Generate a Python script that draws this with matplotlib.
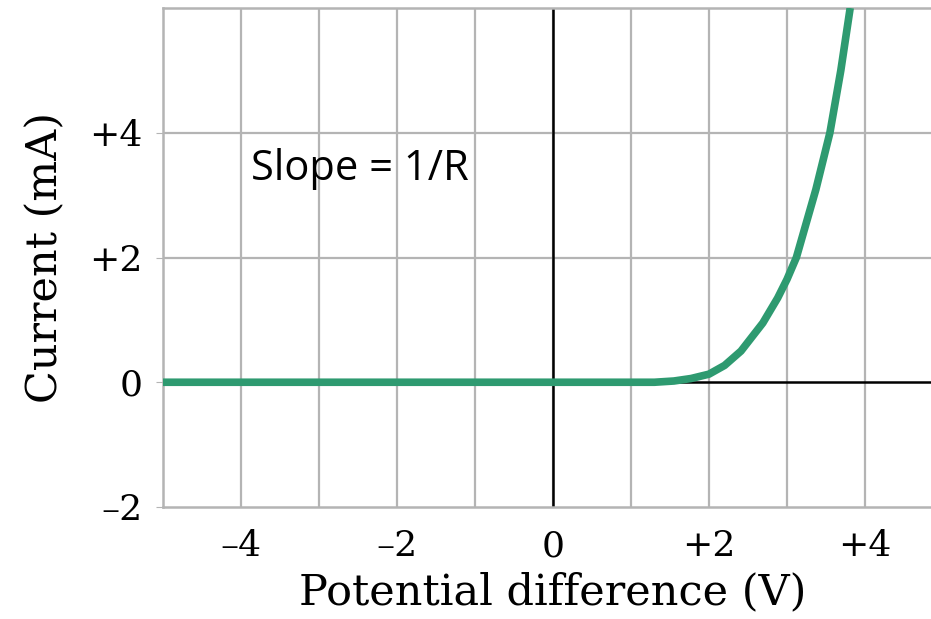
import matplotlib.pyplot as plt

# curve (V, mA)
voltage = [-5.0, 1.3, 1.55, 1.77, 2.0, 2.2, 2.41, 2.69, 2.88, 3.0, 3.12, 3.37, 3.55, 3.69, 3.81]
current = [0.0, 0.0, 0.02, 0.06, 0.13, 0.27, 0.5, 0.95, 1.35, 1.65, 2.0, 3.09, 4.0, 5.0, 6.0]

x_ticks = [-4, -2, 0, 2, 4]
x_labels = ["\u20134", "\u20132", "0", "+2", "+4"]
y_ticks = [-2, 0, 2, 4]
y_labels = ["\u20132", "0", "+2", "+4"]

serif = "DejaVu Serif"
grid_col = "#b4b4b4"

fig = plt.figure(figsize=(9.31, 6.19), dpi=100)
ax = fig.add_axes([163 / 931, 112 / 619, 780 / 931, 499 / 619])
ax.set_xlim(-5, 5)
ax.set_ylim(-2, 6)

# grid: every 1 V, every 2 mA
for v in range(-4, 5):
    ax.axvline(v, color=grid_col, lw=1.6, zorder=1)
for c in [2, 4]:
    ax.axhline(c, color=grid_col, lw=1.6, zorder=1)
ax.axvline(0, color="black", lw=1.8, zorder=2)
ax.axhline(0, color="black", lw=1.8, zorder=2)

ax.plot(voltage, current, color="#2e9a70", lw=5.5, solid_capstyle="butt",
        solid_joinstyle="round", zorder=3)

ax.text(-3.87, 3.42, "Slope = 1/R", fontsize=30, family="Open Sans",
        va="center", ha="left", zorder=4)

for s in ["left", "bottom", "top"]:
    ax.spines[s].set_color(grid_col)
    ax.spines[s].set_linewidth(1.8)
ax.spines["right"].set_visible(False)

ax.set_xticks(x_ticks)
ax.set_xticklabels(x_labels, fontsize=26, family=serif)
ax.set_yticks(y_ticks)
ax.set_yticklabels(y_labels, fontsize=26, family=serif)
ax.tick_params(axis="x", length=0, pad=16)
ax.tick_params(axis="y", length=5, color=grid_col, pad=10)

ax.set_xlabel("Potential difference (V)", fontsize=31, family=serif, labelpad=6)
ax.set_ylabel("Current (mA)", fontsize=31, family=serif, labelpad=16)

fig.savefig("out.png", dpi=100)
